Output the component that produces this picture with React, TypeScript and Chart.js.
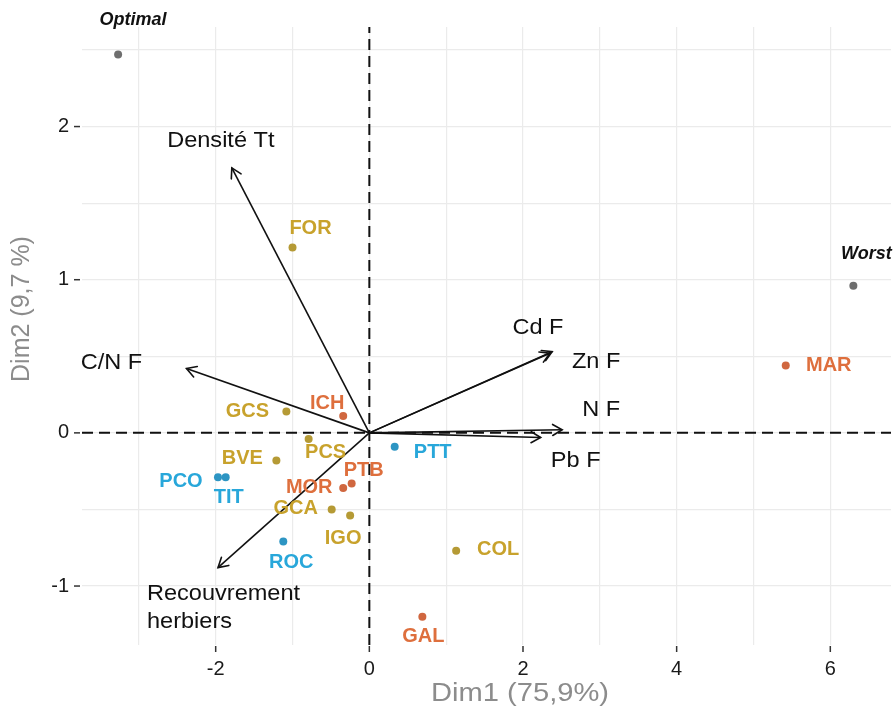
import React, { useEffect, useRef } from "react";
import { Chart, registerables } from "chart.js";

Chart.register(...registerables);

// ---------- data ----------
const refNames = ["Optimal", "Worst"];
const refX = [-3.27, 6.3];
const refY = [2.47, 0.96];

const goldSites = ["FOR", "GCS", "PCS", "BVE", "GCA", "IGO", "COL"];
const goldX = [-1.0, -1.08, -0.79, -1.21, -0.49, -0.25, 1.13];
const goldY = [1.21, 0.14, -0.04, -0.18, -0.5, -0.54, -0.77];

const orangeSites = ["ICH", "MAR", "PTB", "MOR", "GAL"];
const orangeX = [-0.34, 5.42, -0.23, -0.34, 0.69];
const orangeY = [0.11, 0.44, -0.33, -0.36, -1.2];

const blueSites = ["PCO", "TIT", "ROC", "PTT"];
const blueX = [-1.97, -1.87, -1.12, 0.33];
const blueY = [-0.29, -0.29, -0.71, -0.09];

const varNames = ["Densité Tt", "C/N F", "Cd F", "Zn F", "N F", "Pb F", "Recouvrement herbiers"];
const varX = [-1.79, -2.38, 2.35, 2.38, 2.51, 2.23, -1.97];
const varY = [1.73, 0.42, 0.52, 0.53, 0.02, -0.03, -0.88];

const xGridValues = [-3, -2, -1, 0, 1, 2, 3, 4, 5, 6];
const yGridValues = [-1, -0.5, 0, 0.5, 1, 1.5, 2, 2.5];
const xTickLabels = [-2, 0, 2, 4, 6];
const yTickLabels = [-1, 0, 1, 2];

const xMin = -3.74;
const xMax = 6.79;
const yMin = -1.385;
const yMax = 2.65;

const xTitle = "Dim1 (75,9%)";
const yTitle = "Dim2 (9,7 %)";

// ---------- styles (label offsets in px) ----------
const refLabelOffsets: [number, number][] = [[15, -35], [13, -32]];
const goldLabelOffsets: [number, number][] = [[18, -19], [-39, 0], [17, 13], [-34, -2], [-36, -1], [-7, 23], [42, -1]];
const orangeLabelOffsets: [number, number][] = [[-16, -13], [43, 0], [12, -13], [-34, -1], [1, 20]];
const blueLabelOffsets: [number, number][] = [[-37, 4], [3, 20], [8, 21], [38, 6]];
const varLabelOffsets: [number, number][] = [[-11, -27], [-75, -6], [-12, -25], [44, 10], [39, -20], [35, 23], [-71, 26]];

const GOLD_PT = "#b59a35";
const GOLD_TX = "#c8a22c";
const ORANGE_PT = "#d0673f";
const ORANGE_TX = "#de6f3d";
const BLUE_PT = "#2d95c3";
const BLUE_TX = "#28a7da";
const GREY_PT = "#6e6e6e";
const FONT = "'Liberation Sans', Arial, sans-serif";

function zip(xs: number[], ys: number[]) {
  return xs.map((x, i) => ({ x, y: ys[i] }));
}

function drawStretched(
  ctx: CanvasRenderingContext2D,
  text: string,
  x: number,
  y: number,
  font: string,
  color: string,
  align: CanvasTextAlign,
  stretch: number
) {
  ctx.save();
  ctx.translate(x, y);
  ctx.scale(stretch, 1);
  ctx.font = font;
  ctx.fillStyle = color;
  ctx.textAlign = align;
  ctx.textBaseline = "middle";
  ctx.fillText(text, 0, 0);
  ctx.restore();
}

const overlayPlugin = {
  id: "overlay",
  afterDatasetsDraw(chart: any) {
    const ctx: CanvasRenderingContext2D = chart.ctx;
    const xs = chart.scales.x;
    const ys = chart.scales.y;
    const ox = xs.getPixelForValue(0);
    const oy = ys.getPixelForValue(0);

    // arrowheads
    ctx.save();
    ctx.strokeStyle = "#111";
    ctx.lineWidth = 1.6;
    ctx.lineCap = "round";
    varX.forEach((vx, i) => {
      const tx = xs.getPixelForValue(vx);
      const ty = ys.getPixelForValue(varY[i]);
      const ang = Math.atan2(ty - oy, tx - ox);
      const len = 11;
      const spread = Math.PI / 6;
      ctx.beginPath();
      ctx.moveTo(tx - len * Math.cos(ang - spread), ty - len * Math.sin(ang - spread));
      ctx.lineTo(tx, ty);
      ctx.lineTo(tx - len * Math.cos(ang + spread), ty - len * Math.sin(ang + spread));
      ctx.stroke();
    });
    ctx.restore();

    // variable labels
    const varFont = `22px ${FONT}`;
    varNames.forEach((name, i) => {
      const tx = xs.getPixelForValue(varX[i]);
      const ty = ys.getPixelForValue(varY[i]);
      const [dx, dy] = varLabelOffsets[i];
      if (name === "Recouvrement herbiers") {
        drawStretched(ctx, "Recouvrement", tx + dx, ty + dy, varFont, "#111", "left", 1.07);
        drawStretched(ctx, "herbiers", tx + dx, ty + dy + 28, varFont, "#111", "left", 1.07);
      } else {
        drawStretched(ctx, name, tx + dx, ty + dy, varFont, "#111", "center", 1.07);
      }
    });

    // site labels
    const siteFont = `bold 20px ${FONT}`;
    const groups: [string[], number[], number[], [number, number][], string][] = [
      [goldSites, goldX, goldY, goldLabelOffsets, GOLD_TX],
      [orangeSites, orangeX, orangeY, orangeLabelOffsets, ORANGE_TX],
      [blueSites, blueX, blueY, blueLabelOffsets, BLUE_TX],
    ];
    groups.forEach(([names, gx, gy, offs, col]) => {
      names.forEach((n, i) => {
        const px = xs.getPixelForValue(gx[i]);
        const py = ys.getPixelForValue(gy[i]);
        drawStretched(ctx, n, px + offs[i][0], py + offs[i][1], siteFont, col, "center", 1.0);
      });
    });
    refNames.forEach((n, i) => {
      const px = xs.getPixelForValue(refX[i]);
      const py = ys.getPixelForValue(refY[i]);
      drawStretched(ctx, n, px + refLabelOffsets[i][0], py + refLabelOffsets[i][1], `italic bold 18px ${FONT}`, "#111", "center", 1.0);
    });

    // tick marks and labels
    const area = chart.chartArea;
    ctx.save();
    ctx.strokeStyle = "#333";
    ctx.lineWidth = 1.5;
    xTickLabels.forEach((v) => {
      const px = xs.getPixelForValue(v);
      ctx.beginPath();
      ctx.moveTo(px, area.bottom + 1);
      ctx.lineTo(px, area.bottom + 7);
      ctx.stroke();
      drawStretched(ctx, String(v), px, area.bottom + 24, `20px ${FONT}`, "#1a1a1a", "center", 1.0);
    });
    yTickLabels.forEach((v) => {
      const py = ys.getPixelForValue(v);
      ctx.beginPath();
      ctx.moveTo(area.left - 8, py);
      ctx.lineTo(area.left - 2, py);
      ctx.stroke();
      drawStretched(ctx, String(v), area.left - 13, py, `20px ${FONT}`, "#1a1a1a", "right", 1.0);
    });
    ctx.restore();

    // axis titles
    drawStretched(ctx, xTitle, 520, area.bottom + 49, `26px ${FONT}`, "#8c8c8c", "center", 1.12);
    ctx.save();
    ctx.translate(22, 309);
    ctx.rotate(-Math.PI / 2);
    ctx.font = `25px ${FONT}`;
    ctx.fillStyle = "#8c8c8c";
    ctx.textAlign = "center";
    ctx.textBaseline = "middle";
    ctx.fillText(yTitle, 0, 0);
    ctx.restore();
  },
};

export default function App() {
  const ref = useRef<HTMLCanvasElement | null>(null);

  useEffect(() => {
    if (!ref.current) return;
    const arrowSets = varNames.map((n, i) => ({
      type: "line" as const,
      label: n,
      data: [
        { x: 0, y: 0 },
        { x: varX[i], y: varY[i] },
      ],
      borderColor: "#111",
      borderWidth: 1.6,
      pointRadius: 0,
      showLine: true,
      fill: false,
      order: 2,
    }));
    const chart = new Chart(ref.current, {
      type: "scatter",
      data: {
        datasets: [
          { label: "ref", data: zip(refX, refY), backgroundColor: GREY_PT, borderWidth: 0, pointRadius: 4, order: 0 },
          { label: "gold", data: zip(goldX, goldY), backgroundColor: GOLD_PT, borderWidth: 0, pointRadius: 4, order: 0 },
          { label: "orange", data: zip(orangeX, orangeY), backgroundColor: ORANGE_PT, borderWidth: 0, pointRadius: 4, order: 0 },
          { label: "blue", data: zip(blueX, blueY), backgroundColor: BLUE_PT, borderWidth: 0, pointRadius: 4, order: 0 },
          ...arrowSets,
          {
            type: "line" as const,
            label: "h0",
            data: [
              { x: xMin, y: 0 },
              { x: xMax, y: 0 },
            ],
            borderColor: "#111",
            borderWidth: 2,
            borderDash: [11, 6],
            pointRadius: 0,
            showLine: true,
            order: 3,
          },
          {
            type: "line" as const,
            label: "v0",
            data: [
              { x: 0, y: yMin },
              { x: 0, y: yMax },
            ],
            borderColor: "#111",
            borderWidth: 2,
            borderDash: [11, 6],
            pointRadius: 0,
            showLine: true,
            order: 3,
          },
        ] as any,
      },
      options: {
        responsive: false,
        animation: false,
        devicePixelRatio: 1,
        layout: { padding: { left: 82, right: 2, top: 27, bottom: 71 } },
        plugins: { legend: { display: false }, tooltip: { enabled: false } },
        scales: {
          x: {
            type: "linear",
            min: xMin,
            max: xMax,
            afterBuildTicks: (s: any) => {
              s.ticks = xGridValues.map((v) => ({ value: v }));
            },
            ticks: { display: false },
            grid: { color: "#ebebeb", lineWidth: 1.2, drawTicks: false },
            border: { display: false },
          },
          y: {
            type: "linear",
            min: yMin,
            max: yMax,
            afterBuildTicks: (s: any) => {
              s.ticks = yGridValues.map((v) => ({ value: v }));
            },
            ticks: { display: false },
            grid: { color: "#ebebeb", lineWidth: 1.2, drawTicks: false },
            border: { display: false },
          },
        },
      },
      plugins: [overlayPlugin],
    });
    return () => chart.destroy();
  }, []);

  return (
    <div style={{ position: "absolute", left: 0, top: 0, width: 895, height: 716, background: "#fff" }}>
      <canvas ref={ref} width={895} height={716} />
    </div>
  );
}
